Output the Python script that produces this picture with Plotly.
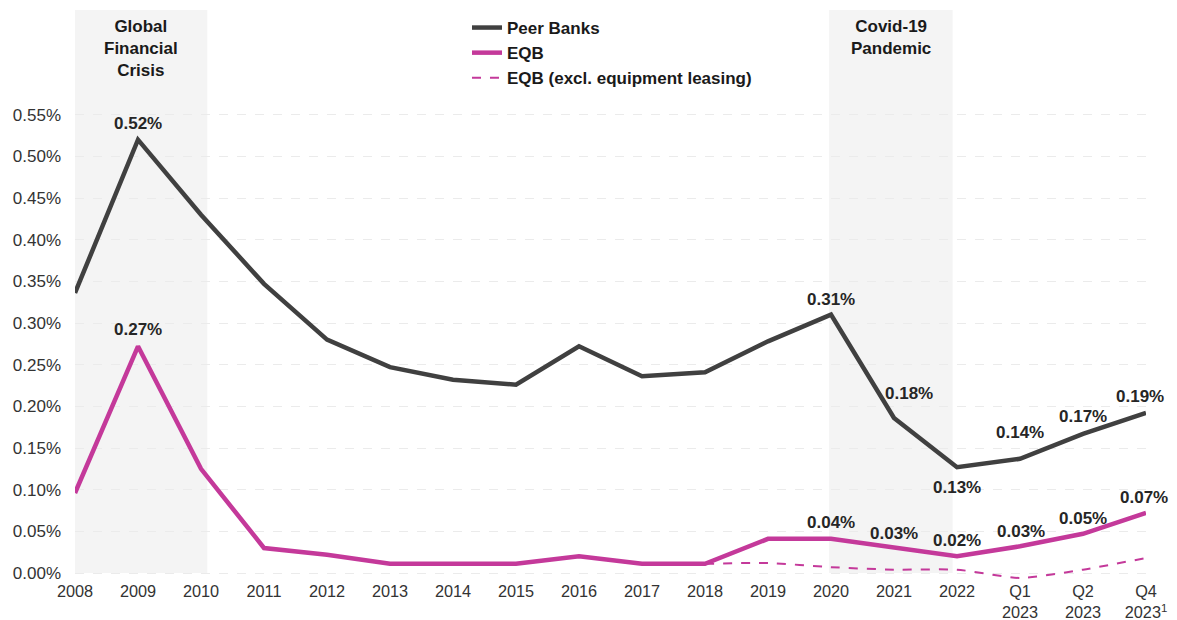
import plotly.graph_objects as go

categories = ["2008", "2009", "2010", "2011", "2012", "2013", "2014", "2015", "2016",
              "2017", "2018", "2019", "2020", "2021", "2022",
              "Q1<br>2023", "Q2<br>2023", "Q4<br>2023<sup>1</sup>"]
peer_banks = [0.336, 0.520, 0.430, 0.347, 0.280, 0.247, 0.232, 0.226, 0.272,
              0.236, 0.241, 0.278, 0.310, 0.186, 0.127, 0.137, 0.167, 0.192]
eqb = [0.096, 0.272, 0.125, 0.030, 0.022, 0.011, 0.011, 0.011, 0.020,
       0.011, 0.011, 0.041, 0.041, 0.031, 0.020, 0.032, 0.047, 0.072]
eqb_excl_leasing = [None, None, None, None, None, None, None, None, None,
                    None, 0.011, 0.012, 0.007, 0.004, 0.004, -0.006, 0.004, 0.018]
y_ticks = [0.00, 0.05, 0.10, 0.15, 0.20, 0.25, 0.30, 0.35, 0.40, 0.45, 0.50, 0.55]

peer_label_idx = [1, 12, 13, 14, 15, 16, 17]
peer_label_txt = ["0.52%", "0.31%", "0.18%", "0.13%", "0.14%", "0.17%", "0.19%"]
eqb_label_idx = [1, 12, 13, 14, 15, 16, 17]
eqb_label_txt = ["0.27%", "0.04%", "0.03%", "0.02%", "0.03%", "0.05%", "0.07%"]

periods = [("Global<br>Financial<br>Crisis", 0.0, 2.1), ("Covid-19<br>Pandemic", 11.97, 13.93)]

GRAY = "#404040"
MAGENTA = "#C4399A"
FONT = "Arial, Liberation Sans, sans-serif"

x = list(range(len(categories)))

fig = go.Figure()
fig.add_trace(go.Scatter(x=x, y=peer_banks, mode="lines", name="Peer Banks",
                         line=dict(color=GRAY, width=4.5)))
fig.add_trace(go.Scatter(x=x, y=eqb, mode="lines", name="EQB",
                         line=dict(color=MAGENTA, width=4.5)))
fig.add_trace(go.Scatter(x=x, y=eqb_excl_leasing, mode="lines",
                         name="EQB (excl. equipment leasing)",
                         line=dict(color=MAGENTA, width=2, dash="dash", shape="spline", smoothing=0.6)))

YMIN, YMAX = -0.0084, 0.6756

for label, x0, x1 in periods:
    fig.add_shape(type="rect", xref="x", yref="y", x0=x0, x1=x1, y0=0, y1=YMAX,
                  fillcolor="#F4F4F4", line=dict(width=0), layer="below")
    fig.add_annotation(x=(x0 + x1) / 2, y=1, xref="x", yref="paper", yanchor="top",
                       yshift=-5, text=label, showarrow=False,
                       font=dict(family=FONT, size=17, color="#1a1a1a", weight="bold"))

peer_offsets = [(0, 16), (0, 15), (15, 25), (0, -20), (0, 26), (0, 17), (-6, 17)]
for (i, t), (dx, dy) in zip(zip(peer_label_idx, peer_label_txt), peer_offsets):
    fig.add_annotation(x=i, y=peer_banks[i], text=t, showarrow=False,
                       xshift=dx, yshift=dy,
                       font=dict(family=FONT, size=17, color="#262626", weight="bold"))

eqb_offsets = [(0, 17), (0, 16), (0, 14), (0, 16), (1, 15), (0, 15), (-2, 16)]
for (i, t), (dx, dy) in zip(zip(eqb_label_idx, eqb_label_txt), eqb_offsets):
    fig.add_annotation(x=i, y=eqb[i], text=t, showarrow=False,
                       xshift=dx, yshift=dy,
                       font=dict(family=FONT, size=17, color="#262626", weight="bold"))

fig.update_layout(
    width=1177, height=620,
    margin=dict(l=75, r=31, t=10, b=40),
    plot_bgcolor="white", paper_bgcolor="white",
    font=dict(family=FONT, size=17, color="#333333"),
    showlegend=True,
    legend=dict(x=0.366, y=1.0, xanchor="left", yanchor="top",
                bgcolor="rgba(0,0,0,0)",
                font=dict(family=FONT, size=17, color="#1a1a1a", weight="bold"),
                tracegroupgap=0),
    xaxis=dict(range=[0, 17], tickvals=x, ticktext=categories, showgrid=False,
               zeroline=False, showline=False, ticks="", automargin=False,
               tickfont=dict(size=16.3, color="#333333")),
    yaxis=dict(range=[YMIN, YMAX], tickvals=y_ticks,
               ticktext=[f"{v:.2f}%" for v in y_ticks],
               showgrid=True, gridcolor="#EBEBEB", griddash="dash", gridwidth=1,
               zeroline=False, showline=False, ticks="", automargin=False,
               ticklabelstandoff=13,
               tickfont=dict(size=17, color="#333333")),
)

fig.write_html("out.html")
